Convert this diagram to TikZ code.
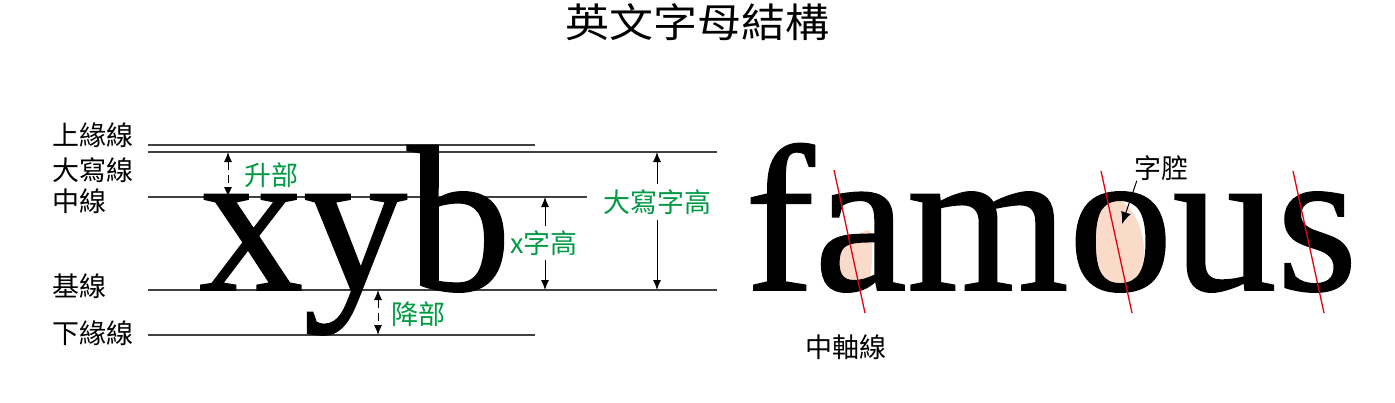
\documentclass[tikz,border=0pt]{standalone}
\usepackage{fontspec}
\setmainfont{Liberation Serif}
\newfontfamily\cjk{Noto Sans CJK TC}
\newfontfamily\tms[FakeBold=0.9]{Liberation Serif}
\usetikzlibrary{arrows.meta}
\definecolor{lblgreen}{RGB}{0,153,68}
\definecolor{peach}{RGB}{250,218,200}
\definecolor{axisred}{RGB}{230,0,18}
\begin{document}
\begin{tikzpicture}[x=1pt,y=-1pt,
  guide/.style={draw=black!75,line width=1.2pt},
  lbl/.style={font=\cjk\fontsize{27}{27}\selectfont,inner sep=0pt,anchor=west},
  glbl/.style={font=\cjk\fontsize{27}{27}\selectfont,text=lblgreen,inner sep=0pt},
  big/.style={font=\tms\fontsize{208}{208}\selectfont,inner sep=0pt,anchor=base west},
  dimboth/.style={draw=black,line width=1pt,{Latex[length=10pt,width=8pt]}-{Latex[length=10pt,width=8pt]}},
  dimdash/.style={dimboth,dash pattern=on 8pt off 5pt},
  dimhead/.style={draw=black,line width=1pt,-{Latex[length=10pt,width=8pt]}},
  axis/.style={draw=axisred,line width=1.3pt},
  ctr/.style={fill=peach}]
\useasboundingbox (0,0) rectangle (1395,402);

% title
\node[font=\cjk\fontsize{40}{40}\selectfont,xscale=1.1,inner sep=0pt] (title) at (697,22) {英文字母結構};

% guide lines
\coordinate (asc-l) at (148,145); \coordinate (asc-r) at (535,145);
\coordinate (cap-l) at (148,152); \coordinate (cap-r) at (717,152);
\coordinate (mid-l) at (148,197); \coordinate (mid-r) at (587,197);
\coordinate (base-l) at (148,290); \coordinate (base-r) at (717,290);
\coordinate (desc-l) at (148,335); \coordinate (desc-r) at (535,335);
\draw[guide] (asc-l) -- (asc-r);
\draw[guide] (cap-l) -- (cap-r);
\draw[guide] (mid-l) -- (mid-r);
\draw[guide] (base-l) -- (base-r);
\draw[guide] (desc-l) -- (desc-r);

% left labels
\node[lbl] (l-asc) at (52,135) {上緣線};
\node[lbl] (l-cap) at (52,170) {大寫線};
\node[lbl] (l-mid) at (52,201) {中線};
\node[lbl] (l-base) at (52,286) {基線};
\node[lbl] (l-desc) at (52,333) {下緣線};

% big letters
\node[big] (xyb) at (199,290) {xyb};

% ascender / descender arrows
\coordinate (up-t) at (228,152); \coordinate (up-b) at (228,197);
\draw[dimdash] (up-t) -- (up-b);
\node[glbl] (l-up) at (271,175) {升部};
\coordinate (dn-t) at (378,290); \coordinate (dn-b) at (378,335);
\draw[dimdash] (dn-t) -- (dn-b);
\node[glbl] (l-dn) at (418,314) {降部};

% x-height
\coordinate (xh-t) at (545,197); \coordinate (xh-b) at (545,290);
\node[glbl,inner ysep=4pt] (l-xh) at (544,243) {x字高};
\draw[dimhead] (l-xh.north -| xh-t) -- (xh-t);
\draw[dimhead] (l-xh.south -| xh-b) -- (xh-b);

% cap height
\coordinate (ch-t) at (657,152); \coordinate (ch-b) at (657,290);
\node[glbl,inner ysep=5pt] (l-ch) at (657,202) {大寫字高};
\draw[dimhead] (l-ch.north -| ch-t) -- (ch-t);
\draw[dimhead] (l-ch.south -| ch-b) -- (ch-b);

% counters
\fill[ctr] plot[smooth cycle] coordinates {(831,262) (848,243) (870,231) (870,277) (852,288) (834,286)};
\fill[ctr,rotate around={12:(1116,242)}] (1116,242) ellipse [x radius=27, y radius=45];

% famous
\node[big] (famous) at (745,290) {famous};

% axes
\coordinate (ax-a-t) at (834,170); \coordinate (ax-a-b) at (865,313);
\coordinate (ax-o-t) at (1101,171); \coordinate (ax-o-b) at (1132,313);
\coordinate (ax-s-t) at (1293,171); \coordinate (ax-s-b) at (1324,313);
\draw[axis] (ax-a-t) -- (ax-a-b);
\draw[axis] (ax-o-t) -- (ax-o-b);
\draw[axis] (ax-s-t) -- (ax-s-b);

\node[font=\cjk\fontsize{27}{27}\selectfont,inner sep=0pt] (l-axis) at (846,347) {中軸線};

% counter label
\node[font=\cjk\fontsize{27}{27}\selectfont,inner sep=0pt] (l-ctr) at (1161,168) {字腔};
\coordinate (ctr-tip) at (1122,224);
\draw[draw=black,line width=1pt,-{Latex[length=12pt,width=10pt]}] ([xshift=3pt]l-ctr.south west) -- (ctr-tip);
\end{tikzpicture}
\end{document}
